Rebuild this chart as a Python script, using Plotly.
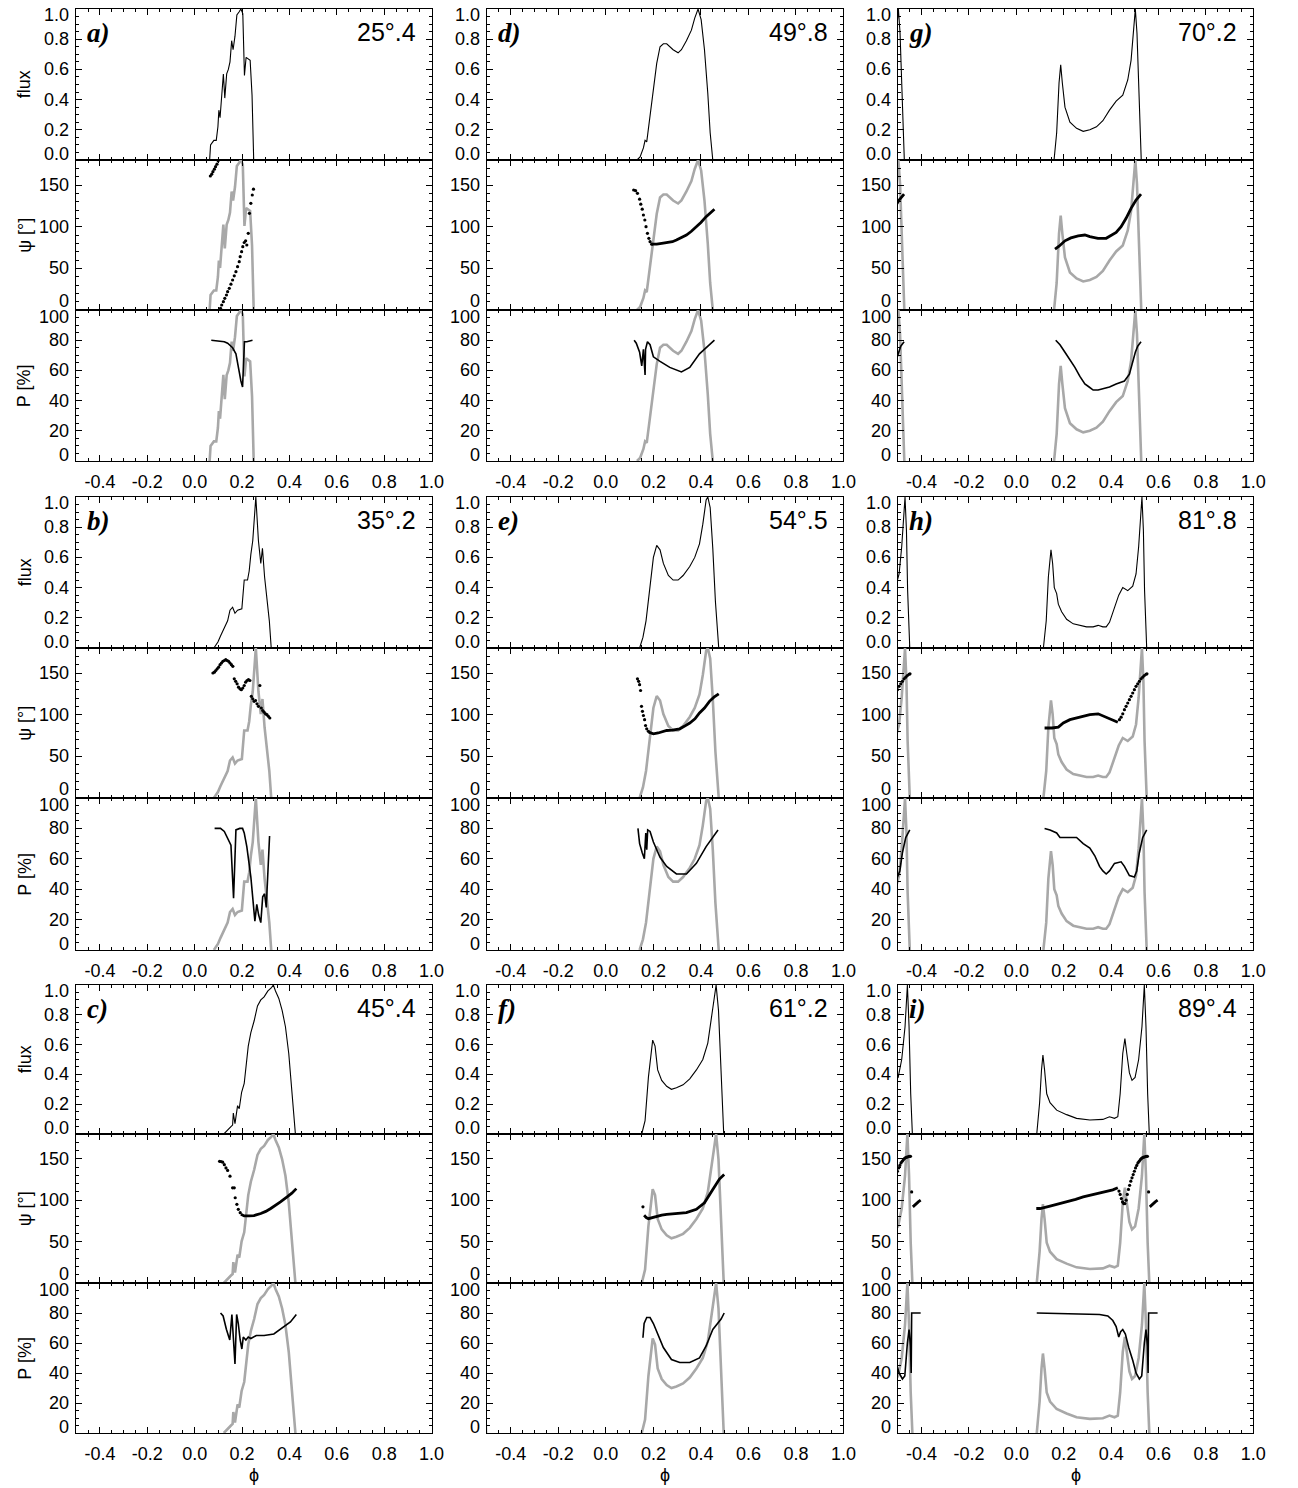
import plotly.graph_objects as go

# ---------------------------------------------------------------------------
# Pulse profiles (flux), position angle (psi) and polarisation degree (P)
# versus rotational phase for nine inclinations.  Phases are in [0, 1);
# every series is also drawn one cycle to the left so the wrap is visible.
# ---------------------------------------------------------------------------

panel_letters = ["a", "b", "c", "d", "e", "f", "g", "h", "i"]
inclinations = ["25°.4", "35°.2", "45°.4", "49°.8", "54°.5", "61°.2", "70°.2", "81°.8", "89°.4"]

# ---- a) 25.4 deg ----
a_flux_phase = [0.063, 0.067, 0.081, 0.091, 0.098, 0.102, 0.107, 0.114, 0.121, 0.127, 0.135, 0.142,
                0.149, 0.156, 0.162, 0.170, 0.178, 0.187, 0.195, 0.203, 0.210, 0.217, 0.226, 0.234,
                0.242, 0.249]
a_flux = [0.0, 0.10, 0.13, 0.13, 0.22, 0.33, 0.28, 0.40, 0.57, 0.41, 0.57, 0.60, 0.65, 0.79, 0.73,
          0.82, 0.96, 0.98, 1.00, 0.97, 0.56, 0.68, 0.67, 0.66, 0.43, 0.0]
a_psi_line_phase = []
a_psi_line = []
a_psi_dot_phase = [0.066, 0.072, 0.077, 0.083, 0.088, 0.094, 0.099,
                   0.109, 0.114, 0.121, 0.127, 0.134, 0.139, 0.146, 0.153, 0.160, 0.167, 0.174,
                   0.181, 0.188, 0.192, 0.198, 0.203, 0.209, 0.215, 0.220, 0.226, 0.231, 0.237,
                   0.243, 0.248]
a_psi_dot = [160.8, 163, 166, 169, 172, 175, 179,
             2, 6, 10, 14, 18, 22, 26, 31, 36, 41, 46, 52, 58, 64, 70, 76, 81, 83, 78, 92, 116,
             128, 138, 145]
a_pol_phase = [0.070, 0.098, 0.125, 0.139, 0.160, 0.174, 0.181, 0.188, 0.195, 0.202, 0.210, 0.220,
               0.244]
a_pol = [80, 79.5, 79, 78, 75, 71, 66, 59, 53, 49, 79, 79, 80]

# ---- b) 35.2 deg ----
b_flux_phase = [0.081, 0.098, 0.109, 0.125, 0.139, 0.149, 0.160, 0.170, 0.181, 0.199, 0.209, 0.223,
                0.230, 0.237, 0.245, 0.258, 0.269, 0.279, 0.286, 0.295, 0.307, 0.315, 0.323]
b_flux = [0.0, 0.04, 0.08, 0.14, 0.18, 0.25, 0.27, 0.23, 0.25, 0.26, 0.45, 0.45, 0.51, 0.62, 0.71,
          1.0, 0.71, 0.56, 0.66, 0.47, 0.31, 0.18, 0.0]
b_psi_line_phase = []
b_psi_line = []
b_psi_dot_phase = [0.077, 0.083, 0.089, 0.095, 0.101, 0.107, 0.113, 0.119, 0.125, 0.131, 0.137,
                   0.143, 0.149, 0.155, 0.161, 0.167, 0.173, 0.179, 0.185, 0.191, 0.197, 0.203,
                   0.209, 0.215, 0.221, 0.227, 0.233, 0.239, 0.245, 0.251, 0.257, 0.263, 0.269,
                   0.275, 0.281, 0.287, 0.293, 0.299, 0.305, 0.311, 0.317]
b_psi_dot = [150, 151, 153, 155, 157, 160, 162, 164, 165, 166, 165, 164, 162, 160, 158, 143, 140,
             137, 133, 131, 130, 132, 135, 139, 141, 142, 141, 122, 119, 116, 117, 113, 110, 135,
             108, 105, 103, 101, 100, 98, 96]
b_pol_phase = [0.084, 0.109, 0.125, 0.139, 0.153, 0.164, 0.174, 0.190, 0.202, 0.209, 0.220, 0.237,
               0.248, 0.254, 0.262, 0.270, 0.279, 0.287, 0.295, 0.302, 0.316]
b_pol = [80, 80, 78, 74, 69, 34, 79, 80, 80, 77, 68, 48, 30, 19, 30, 23, 18, 35, 37, 28, 75]

# ---- c) 45.4 deg ----
c_flux_phase = [0.123, 0.139, 0.153, 0.160, 0.163, 0.170, 0.181, 0.188, 0.198, 0.209, 0.216, 0.226,
                0.237, 0.251, 0.265, 0.279, 0.293, 0.309, 0.323, 0.332, 0.341, 0.355, 0.369, 0.383,
                0.397, 0.411, 0.425]
c_flux = [0.0, 0.03, 0.05, 0.06, 0.14, 0.07, 0.19, 0.17, 0.28, 0.34, 0.45, 0.59, 0.68, 0.76, 0.86,
          0.90, 0.92, 0.96, 0.98, 1.0, 0.96, 0.91, 0.83, 0.72, 0.54, 0.27, 0.0]
c_psi_line_phase = [0.195, 0.209, 0.23, 0.25, 0.279, 0.30, 0.321, 0.34, 0.362, 0.39, 0.41, 0.429]
c_psi_line = [83, 81, 81, 81.5, 84, 86.5, 90, 93.5, 98, 104, 108.5, 114]
c_psi_dot_phase = [0.105, 0.111, 0.118, 0.125, 0.132, 0.139, 0.149, 0.160, 0.167, 0.171, 0.178,
                   0.184, 0.192]
c_psi_dot = [147, 146.8, 146, 143, 139, 136, 129, 115, 115, 103, 95, 89, 85]
c_pol_phase = [0.109, 0.120, 0.134, 0.148, 0.157, 0.163, 0.170, 0.177, 0.184, 0.192, 0.199, 0.205,
               0.216, 0.226, 0.237, 0.26, 0.293, 0.334, 0.376, 0.404, 0.429]
c_pol = [80, 78, 69, 62, 79, 60, 46, 79, 73, 62, 56, 64, 62, 64, 63, 65, 65, 66, 71, 74, 79]

# ---- d) 49.8 deg ----
d_flux_phase = [0.131, 0.144, 0.158, 0.165, 0.172, 0.186, 0.200, 0.214, 0.228, 0.242, 0.256, 0.269,
                0.283, 0.304, 0.318, 0.339, 0.360, 0.374, 0.388, 0.401, 0.415, 0.429, 0.439, 0.450]
d_flux = [0.0, 0.02, 0.08, 0.13, 0.12, 0.29, 0.46, 0.64, 0.75, 0.77, 0.77, 0.75, 0.73, 0.71, 0.73,
          0.79, 0.86, 0.94, 1.0, 0.93, 0.73, 0.44, 0.18, 0.0]
d_psi_line_phase = [0.193, 0.214, 0.235, 0.256, 0.28, 0.297, 0.32, 0.339, 0.36, 0.381, 0.40, 0.422,
                    0.44, 0.457]
d_psi_line = [79, 79, 80, 81, 82, 84, 87, 90, 94.5, 100, 105, 112, 116.5, 121]
d_psi_dot_phase = [0.117, 0.125, 0.133, 0.142, 0.147, 0.153, 0.158, 0.164, 0.169, 0.175, 0.181,
                   0.186, 0.193]
d_psi_dot = [144, 143.2, 140, 133, 127, 121, 114, 108, 100, 92, 86, 82, 79]
d_pol_phase = [0.119, 0.128, 0.142, 0.151, 0.158, 0.165, 0.167, 0.175, 0.186, 0.200, 0.228, 0.269,
               0.318, 0.353, 0.394, 0.436, 0.457]
d_pol = [80, 78, 72, 63, 74, 57, 74, 79, 77, 69, 66, 62, 59, 62, 71, 77, 80]

# ---- e) 54.5 deg ----
e_flux_phase = [0.142, 0.156, 0.169, 0.186, 0.200, 0.214, 0.228, 0.242, 0.263, 0.283, 0.304, 0.325,
                0.353, 0.374, 0.394, 0.408, 0.422, 0.429, 0.439, 0.450, 0.461, 0.475]
e_flux = [0.0, 0.07, 0.18, 0.40, 0.60, 0.68, 0.65, 0.56, 0.48, 0.45, 0.45, 0.48, 0.54, 0.60, 0.69,
          0.82, 0.98, 1.0, 0.93, 0.66, 0.31, 0.0]
e_psi_line_phase = [0.18, 0.20, 0.22, 0.24, 0.256, 0.28, 0.311, 0.33, 0.353, 0.375, 0.394, 0.415,
                    0.436, 0.455, 0.475]
e_psi_line = [79, 77, 78, 79.5, 81, 81.5, 83, 86, 90, 95, 102, 108, 116, 121, 125]
e_psi_dot_phase = [0.133, 0.138, 0.142, 0.146, 0.150, 0.154, 0.158, 0.163, 0.167, 0.172, 0.179]
e_psi_dot = [143, 140, 136, 129, 110, 104, 99, 94, 87, 83, 80]
e_pol_phase = [0.135, 0.142, 0.153, 0.162, 0.168, 0.172, 0.176, 0.186, 0.200, 0.228, 0.256, 0.297,
               0.339, 0.381, 0.422, 0.472]
e_pol = [80, 70, 64, 60, 77, 66, 79, 78, 71, 61, 55, 50, 50, 57, 68, 79]

# ---- f) 61.2 deg ----
f_flux_phase = [0.151, 0.165, 0.179, 0.190, 0.197, 0.207, 0.218, 0.235, 0.256, 0.276, 0.297, 0.325,
                0.353, 0.381, 0.408, 0.429, 0.443, 0.457, 0.464, 0.474, 0.482, 0.489, 0.496]
f_flux = [0.0, 0.09, 0.38, 0.56, 0.63, 0.59, 0.43, 0.36, 0.32, 0.30, 0.31, 0.33, 0.37, 0.43, 0.50,
          0.61, 0.77, 0.94, 1.0, 0.83, 0.50, 0.16, 0.0]
f_psi_line_phase = [0.161, 0.170, 0.179, 0.195, 0.214, 0.235, 0.256, 0.297, 0.339, 0.381, 0.415,
                    0.45, 0.478, 0.498]
f_psi_line = [81.8, 79, 77.7, 79, 81, 82, 83, 84.2, 85, 89, 97, 113, 125.5, 131]
f_psi_dot_phase = [0.156]
f_psi_dot = [92]
f_pol_phase = [0.156, 0.161, 0.172, 0.186, 0.200, 0.214, 0.242, 0.276, 0.311, 0.353, 0.394, 0.422,
               0.45, 0.485, 0.498]
f_pol = [63.5, 73, 77, 77, 73, 68, 57, 49, 47, 47, 50, 58, 69, 76, 80]

# ---- g) 70.2 deg ----
g_flux_phase = [0.159, 0.170, 0.180, 0.187, 0.194, 0.205, 0.226, 0.254, 0.282, 0.310, 0.338, 0.365,
                0.393, 0.421, 0.449, 0.470, 0.484, 0.494, 0.502, 0.509, 0.516, 0.523, 0.527]
g_flux = [0.0, 0.18, 0.51, 0.63, 0.51, 0.35, 0.25, 0.21, 0.19, 0.20, 0.22, 0.26, 0.33, 0.39, 0.43,
          0.53, 0.66, 0.84, 1.0, 0.84, 0.51, 0.13, 0.0]
g_psi_line_phase = [0.163, 0.18, 0.205, 0.23, 0.261, 0.289, 0.31, 0.344, 0.379, 0.40, 0.421, 0.442,
                    0.463, 0.484, 0.505, 0.526]
g_psi_line = [73, 76.5, 83, 86.5, 89, 90, 88, 86, 86, 89, 93, 100, 110, 122, 132, 139]
g_psi_dot_phase = []
g_psi_dot = []
g_pol_phase = [0.166, 0.184, 0.205, 0.226, 0.247, 0.268, 0.289, 0.307, 0.324, 0.345, 0.365, 0.393,
               0.421, 0.456, 0.477, 0.491, 0.502, 0.512, 0.526]
g_pol = [80, 77, 72, 67, 62, 56, 51, 49, 47, 47, 48, 49, 51, 53, 57.5, 66, 72, 76, 79]

# ---- h) 81.8 deg ----
h_flux_phase = [0.114, 0.126, 0.135, 0.142, 0.146, 0.153, 0.160, 0.170, 0.177, 0.191, 0.212, 0.240,
                0.268, 0.296, 0.324, 0.345, 0.365, 0.379, 0.393, 0.414, 0.432, 0.449, 0.470, 0.491,
                0.505, 0.516, 0.524, 0.530, 0.536, 0.541, 0.550]
h_flux = [0.0, 0.18, 0.47, 0.60, 0.65, 0.56, 0.40, 0.36, 0.29, 0.24, 0.19, 0.16, 0.15, 0.14, 0.14,
          0.15, 0.14, 0.14, 0.17, 0.27, 0.35, 0.40, 0.38, 0.41, 0.49, 0.67, 0.89, 1.0, 0.78, 0.38,
          0.0]
h_psi_line_phase = [0.119, 0.15, 0.177, 0.198, 0.226, 0.268, 0.31, 0.345, 0.379, 0.41, 0.428]
h_psi_line = [84, 84, 85, 90, 94, 97, 100, 101, 97, 93, 91]
h_psi_dot_phase = [0.435, 0.442, 0.449, 0.456, 0.463, 0.470, 0.477, 0.484, 0.491, 0.498, 0.505,
                   0.512, 0.519, 0.526, 0.533, 0.540, 0.547, 0.551]
h_psi_dot = [94, 97, 101, 106, 110, 114, 118, 122, 126, 130, 134, 137, 140, 143, 145, 147, 148.5,
             149]
h_pol_phase = [0.119, 0.142, 0.170, 0.184, 0.254, 0.282, 0.310, 0.331, 0.351, 0.365, 0.379, 0.393,
               0.414, 0.442, 0.456, 0.477, 0.498, 0.508, 0.519, 0.533, 0.550]
h_pol = [80, 79, 77, 74, 74, 70, 67, 62, 55, 52, 50, 52, 57, 58, 55, 49, 48, 52, 64, 74, 79]

# ---- i) 89.4 deg ----
i_flux_phase = [0.086, 0.098, 0.106, 0.112, 0.119, 0.128, 0.142, 0.170, 0.212, 0.254, 0.310, 0.365,
                0.393, 0.414, 0.428, 0.438, 0.449, 0.458, 0.466, 0.477, 0.488, 0.501, 0.516, 0.530,
                0.540, 0.547, 0.554, 0.561]
i_flux = [0.0, 0.21, 0.43, 0.53, 0.43, 0.27, 0.21, 0.16, 0.13, 0.105, 0.094, 0.098, 0.116, 0.105,
          0.116, 0.27, 0.54, 0.64, 0.54, 0.41, 0.36, 0.38, 0.50, 0.72, 1.0, 0.72, 0.27, 0.0]
i_psi_line_phase = [0.084, 0.10, 0.142, 0.18, 0.212, 0.25, 0.282, 0.32, 0.351, 0.38, 0.407, 0.428,
                    None, 0.563, 0.57, 0.578, 0.586, 0.596]
i_psi_line = [90, 90, 93, 95.5, 98, 101, 104, 106.5, 108.5, 110.5, 112.5, 115,
              None, 92, 94, 96, 98, 100]
i_psi_dot_phase = [0.433, 0.438, 0.443, 0.448, 0.453, 0.458, 0.463, 0.468, 0.473, 0.478, 0.483,
                   0.488, 0.493, 0.498, 0.503, 0.508, 0.513, 0.518, 0.523, 0.528, 0.533, 0.538,
                   0.543, 0.548, 0.553, 0.558]
i_psi_dot = [111, 107, 102, 98, 96, 96, 100, 107, 113, 118, 123, 127, 131, 135, 139, 142, 145, 147,
             149, 150.5, 151.5, 152, 152.5, 153, 153, 110]
i_pol_phase = [0.086, 0.212, 0.351, 0.386, 0.407, 0.421, 0.432, 0.440, 0.449, 0.460, 0.474, 0.491,
               0.505, 0.519, 0.529, 0.540, 0.547, 0.553, 0.556, 0.558, 0.596]
i_pol = [80, 79.5, 79, 78, 75, 71, 64, 67.5, 69, 66, 57, 48.5, 40, 36, 38, 60, 69, 58, 40, 80, 80]

# ---- axes ticks ----
phase_ticks = [-0.4, -0.2, 0.0, 0.2, 0.4, 0.6, 0.8, 1.0]
phase_tick_text = ["-0.4", "-0.2", "0.0", "0.2", "0.4", "0.6", "0.8", "1.0"]
flux_ticks = [0.0, 0.2, 0.4, 0.6, 0.8, 1.0]
flux_tick_text = ["0.0", "0.2", "0.4", "0.6", "0.8", "1.0"]
psi_ticks = [0, 50, 100, 150]
psi_tick_text = ["0", "50", "100", "150"]
pol_ticks = [0, 20, 40, 60, 80, 100]
pol_tick_text = ["0", "20", "40", "60", "80", "100"]
row_titles = ["flux", "ψ [°]", "P [%]"]

panels = [
    dict(flux=(a_flux_phase, a_flux), psi_line=(a_psi_line_phase, a_psi_line),
         psi_dot=(a_psi_dot_phase, a_psi_dot), pol=(a_pol_phase, a_pol)),
    dict(flux=(b_flux_phase, b_flux), psi_line=(b_psi_line_phase, b_psi_line),
         psi_dot=(b_psi_dot_phase, b_psi_dot), pol=(b_pol_phase, b_pol)),
    dict(flux=(c_flux_phase, c_flux), psi_line=(c_psi_line_phase, c_psi_line),
         psi_dot=(c_psi_dot_phase, c_psi_dot), pol=(c_pol_phase, c_pol)),
    dict(flux=(d_flux_phase, d_flux), psi_line=(d_psi_line_phase, d_psi_line),
         psi_dot=(d_psi_dot_phase, d_psi_dot), pol=(d_pol_phase, d_pol)),
    dict(flux=(e_flux_phase, e_flux), psi_line=(e_psi_line_phase, e_psi_line),
         psi_dot=(e_psi_dot_phase, e_psi_dot), pol=(e_pol_phase, e_pol)),
    dict(flux=(f_flux_phase, f_flux), psi_line=(f_psi_line_phase, f_psi_line),
         psi_dot=(f_psi_dot_phase, f_psi_dot), pol=(f_pol_phase, f_pol)),
    dict(flux=(g_flux_phase, g_flux), psi_line=(g_psi_line_phase, g_psi_line),
         psi_dot=(g_psi_dot_phase, g_psi_dot), pol=(g_pol_phase, g_pol)),
    dict(flux=(h_flux_phase, h_flux), psi_line=(h_psi_line_phase, h_psi_line),
         psi_dot=(h_psi_dot_phase, h_psi_dot), pol=(h_pol_phase, h_pol)),
    dict(flux=(i_flux_phase, i_flux), psi_line=(i_psi_line_phase, i_psi_line),
         psi_dot=(i_psi_dot_phase, i_psi_dot), pol=(i_pol_phase, i_pol)),
]

# ---- page geometry (pixels) ----
W, H = 1298, 1488
COLS = [(77, 436), (492, 852), (907, 1266)]
ROWS = [(9, 160, 310, 461), (497, 648, 798, 950), (985, 1134, 1283, 1433)]

SANS = "Liberation Sans, Arial, Helvetica, sans-serif"
SERIF = "Liberation Serif, Times New Roman, serif"
TICK_FONT = dict(family=SANS, size=18, color="black")
GREY = "#a8a8a8"

SUB_RANGES = [(0.0, 1.0), (0.0, 180.0), (0.0, 100.0)]
SUB_TICKS = [(flux_ticks, flux_tick_text, 0.05),
             (psi_ticks, psi_tick_text, 10),
             (pol_ticks, pol_tick_text, 5)]
# vertical nudge (px) of the lowest / highest tick label, keeping them inside the frame
END_LABEL_SHIFT = [(6, -6), (9, 0), (6, -7)]


def periodic(xs, ys):
    """One cycle plus its copy shifted by -1 in phase (gap in between)."""
    xs2 = [None if x is None else x - 1 for x in xs]
    return list(xs) + [None] + xs2, list(ys) + [None] + list(ys)


def scaled(ys, factor):
    return [None if y is None else y * factor for y in ys]


def ax_name(kind, k):
    return kind if k == 1 else f"{kind}{k}"


fig = go.Figure()
layout = dict(width=W, height=H, autosize=False,
              margin=dict(l=0, r=0, t=0, b=0, pad=0),
              paper_bgcolor="white", plot_bgcolor="white",
              showlegend=False, hovermode=False)
annotations = []

for p, panel in enumerate(panels):
    col, row = divmod(p, 3)
    x0, x1 = COLS[col]
    fx, fy = panel["flux"]

    for s in range(3):
        k = p * 3 + s + 1
        xr, yr = ax_name("x", k), ax_name("y", k)
        top, bot = ROWS[row][s], ROWS[row][s + 1]
        lo, hi = SUB_RANGES[s]
        tvals, ttext, minor_step = SUB_TICKS[s]
        lo_shift, hi_shift = END_LABEL_SHIFT[s]

        layout[ax_name("xaxis", k)] = dict(
            domain=[x0 / W, x1 / W], anchor=yr, range=[-0.5, 1.0],
            showline=True, linecolor="black", linewidth=1.2, mirror="ticks",
            ticks="inside", ticklen=6, tickwidth=1, tickcolor="black",
            tickmode="array", tickvals=phase_ticks, ticktext=phase_tick_text,
            showticklabels=(s == 2), tickfont=TICK_FONT, ticklabelstandoff=4,
            minor=dict(tickmode="linear", tick0=-0.5, dtick=0.05, ticks="inside",
                       ticklen=3, tickwidth=1, tickcolor="black", showgrid=False),
            showgrid=False, zeroline=False, fixedrange=True)
        layout[ax_name("yaxis", k)] = dict(
            domain=[1 - bot / H, 1 - top / H], anchor=xr, range=[lo, hi],
            showline=True, linecolor="black", linewidth=1.2, mirror="ticks",
            ticks="inside", ticklen=6, tickwidth=1, tickcolor="black",
            tickmode="array", tickvals=tvals, showticklabels=False,
            minor=dict(tickmode="linear", tick0=0, dtick=minor_step, ticks="inside",
                       ticklen=3, tickwidth=1, tickcolor="black", showgrid=False),
            showgrid=False, zeroline=False, fixedrange=True)

        # y tick labels; the end labels are nudged inside the frame
        for v, t in zip(tvals, ttext):
            shift = 0
            if v == lo:
                shift = lo_shift
            elif v == hi:
                shift = hi_shift
            annotations.append(dict(
                x=(x0 - 5) / W, xref="paper", xanchor="right",
                y=v, yref=yr, yanchor="middle", yshift=shift,
                text=t, showarrow=False, font=TICK_FONT))

        if col == 0:
            annotations.append(dict(
                x=25 / W, xref="paper", xanchor="center",
                y=1 - (top + bot) / 2 / H, yref="paper", yanchor="middle",
                text=row_titles[s], textangle=-90, showarrow=False,
                font=dict(family=SANS, size=18, color="black")))

        if s == 0:
            x, y = periodic(fx, fy)
            fig.add_trace(go.Scatter(x=x, y=y, mode="lines", xaxis=xr, yaxis=yr,
                                     line=dict(color="black", width=1.1)))
        elif s == 1:
            x, y = periodic(fx, scaled(fy, 180))
            fig.add_trace(go.Scatter(x=x, y=y, mode="lines", xaxis=xr, yaxis=yr,
                                     line=dict(color=GREY, width=2.6)))
            lx, ly = panel["psi_line"]
            if lx:
                x, y = periodic(lx, ly)
                fig.add_trace(go.Scatter(x=x, y=y, mode="lines", xaxis=xr, yaxis=yr,
                                         line=dict(color="black", width=2.8)))
            dx, dy = panel["psi_dot"]
            if dx:
                x, y = periodic(dx, dy)
                fig.add_trace(go.Scatter(x=x, y=y, mode="markers", xaxis=xr, yaxis=yr,
                                         marker=dict(color="black", size=3.2, line=dict(width=0))))
        else:
            x, y = periodic(fx, scaled(fy, 100))
            fig.add_trace(go.Scatter(x=x, y=y, mode="lines", xaxis=xr, yaxis=yr,
                                     line=dict(color=GREY, width=2.6)))
            px_, py_ = panel["pol"]
            x, y = periodic(px_, py_)
            fig.add_trace(go.Scatter(x=x, y=y, mode="lines", xaxis=xr, yaxis=yr,
                                     line=dict(color="black", width=1.6)))

    top = ROWS[row][0]
    annotations.append(dict(
        x=(x0 + 9) / W, xref="paper", xanchor="left",
        y=1 - (top + 24) / H, yref="paper", yanchor="middle",
        text=f"<b><i>{panel_letters[p]})</i></b>", showarrow=False,
        font=dict(family=SERIF, size=27, color="black")))
    annotations.append(dict(
        x=(x1 - 14) / W, xref="paper", xanchor="right",
        y=1 - (top + 23) / H, yref="paper", yanchor="middle",
        text=inclinations[p], showarrow=False,
        font=dict(family=SANS, size=25, color="black")))

# phase axis title under each column
for x0, x1 in COLS:
    annotations.append(dict(
        x=(x0 + x1) / 2 / W, xref="paper", xanchor="center",
        y=1 - 1475 / H, yref="paper", yanchor="middle",
        text="ϕ", showarrow=False, font=dict(family=SANS, size=18, color="black")))

layout["annotations"] = annotations
fig.update_layout(**layout)
fig.write_html("out.html")
